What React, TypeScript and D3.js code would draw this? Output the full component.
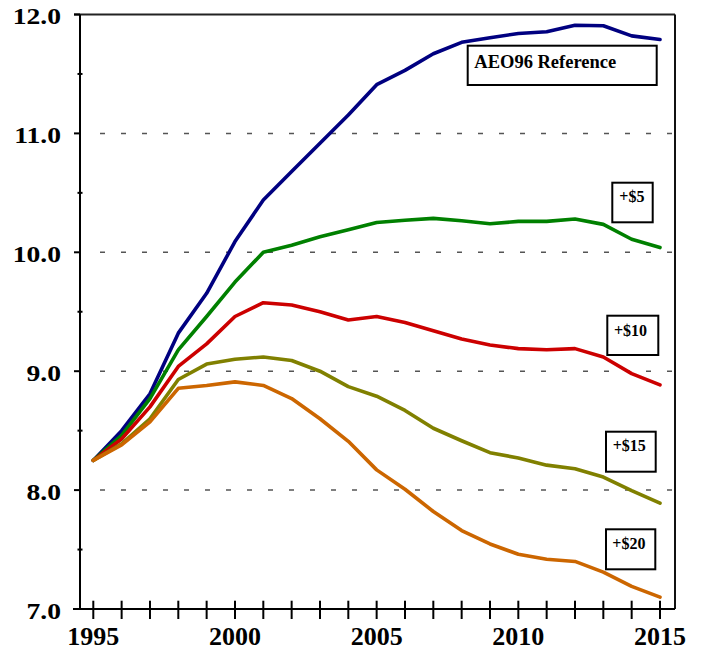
import React from "react";
import * as d3 from "d3";

const years = d3.range(1995, 2016);
const aeo96 = [8.25, 8.5, 8.81, 9.32, 9.655, 10.09, 10.44, 10.68, 10.917, 11.155, 11.41, 11.53, 11.67, 11.766, 11.805, 11.84, 11.855, 11.91, 11.905, 11.82, 11.79];
const plus5 = [8.25, 8.46, 8.77, 9.18, 9.46, 9.75, 10.0, 10.06, 10.13, 10.19, 10.25, 10.27, 10.285, 10.265, 10.24, 10.26, 10.26, 10.28, 10.235, 10.11, 10.04];
const plus10 = [8.25, 8.43, 8.7, 9.04, 9.23, 9.46, 9.576, 9.557, 9.5, 9.43, 9.46, 9.41, 9.34, 9.27, 9.22, 9.19, 9.18, 9.19, 9.12, 8.98, 8.885];
const plus15 = [8.25, 8.39, 8.6, 8.93, 9.06, 9.1, 9.12, 9.09, 9.0, 8.87, 8.79, 8.67, 8.52, 8.415, 8.315, 8.27, 8.21, 8.18, 8.11, 7.995, 7.89];
const plus20 = [8.25, 8.38, 8.575, 8.856, 8.88, 8.91, 8.88, 8.77, 8.6, 8.41, 8.17, 8.007, 7.82, 7.66, 7.547, 7.46, 7.418, 7.4, 7.31, 7.19, 7.1];

const seriesNames = ["AEO96 Reference", "+$5", "+$10", "+$15", "+$20"];
const seriesColors = ["#000080", "#008000", "#cc0000", "#808000", "#cc6600"];
const seriesValues = [aeo96, plus5, plus10, plus15, plus20];

const yTicks = [7, 8, 9, 10, 11, 12];
const yMinor = [7.5, 8.5, 9.5, 10.5, 11.5];
const gridValues = [8, 9, 10, 11];
const xLabels = [1995, 2000, 2005, 2010, 2015];

// label boxes: [x, y, w, h, textX, baseline, fontSize]
const labelBoxes: [number, number, number, number, number, number, number][] = [
  [467.7, 45.7, 189, 39.3, 474.3, 67.7, 18.5],
  [612.3, 182.7, 40.4, 39.6, 619.3, 202, 16],
  [607.3, 315.7, 51, 39.3, 614, 336, 16],
  [606, 431.7, 49.7, 40, 612.7, 451, 16],
  [606, 529.3, 49.3, 40, 612.3, 549, 16],
];

const serif = '"Liberation Serif", "DejaVu Serif", serif';

export default function App() {
  const x = d3.scaleLinear().domain([1995, 2015]).range([93.3, 660]);
  const y = d3.scaleLinear().domain([7, 12]).range([609, 14.5]);
  const left = 80;
  const right = 675;
  const top = y(12);
  const bottom = y(7);
  const line = d3
    .line<number>()
    .x((_, i) => x(years[i]))
    .y((d) => y(d));
  const ts = { fontFamily: serif, fontWeight: 700 as const };

  return (
    <svg
      width={706}
      height={653}
      style={{ position: "absolute", left: 0, top: 0, background: "#fff" }}
    >
      <rect x={0} y={0} width={706} height={653} fill="#fff" />
      {gridValues.map((v) => (
        <line
          key={"g" + v}
          x1={100}
          x2={right}
          y1={y(v)}
          y2={y(v)}
          stroke="#555"
          strokeWidth={1.5}
          strokeDasharray="5,16"
        />
      ))}
      {seriesValues.map((vals, i) => (
        <path
          key={seriesNames[i]}
          d={line(vals) || ""}
          fill="none"
          stroke={seriesColors[i]}
          strokeWidth={3.6}
          strokeLinejoin="round"
          strokeLinecap="round"
        />
      ))}
      {/* frame */}
      <line x1={74} x2={right} y1={top} y2={top} stroke="#222" strokeWidth={1.8} />
      <line x1={right} x2={right} y1={top} y2={bottom} stroke="#111" strokeWidth={2} />
      <line x1={left} x2={left} y1={top} y2={bottom + 1} stroke="#000" strokeWidth={2} />
      <line x1={73} x2={right} y1={bottom} y2={bottom} stroke="#000" strokeWidth={2} />
      {yTicks.map((v) => (
        <g key={"yt" + v}>
          <line x1={74} x2={left} y1={y(v)} y2={y(v)} stroke="#000" strokeWidth={2} />
          <text
            transform={`translate(61, ${y(v) + 9.5}) scale(1.15, 1)`}
            textAnchor="end"
            fontSize={24}
            style={ts}
            fill="#000"
          >
            {v.toFixed(1)}
          </text>
        </g>
      ))}
      {yMinor.map((v) => (
        <line key={"ym" + v} x1={77.5} x2={82.5} y1={y(v)} y2={y(v)} stroke="#000" strokeWidth={2} />
      ))}
      {years.map((yr) => (
        <line key={"xt" + yr} x1={x(yr)} x2={x(yr)} y1={600.7} y2={619} stroke="#000" strokeWidth={2} />
      ))}
      {xLabels.map((yr) => (
        <text
          key={"xl" + yr}
          x={x(yr)}
          y={645}
          textAnchor="middle"
          fontSize={26}
          style={ts}
          fill="#000"
        >
          {yr}
        </text>
      ))}
      {labelBoxes.map((b, i) => (
        <g key={"lb" + i}>
          <rect x={b[0]} y={b[1]} width={b[2]} height={b[3]} fill="#fff" stroke="#000" strokeWidth={2} />
          <text x={b[4]} y={b[5]} fontSize={b[6]} style={ts} fill="#000">
            {seriesNames[i]}
          </text>
        </g>
      ))}
    </svg>
  );
}
